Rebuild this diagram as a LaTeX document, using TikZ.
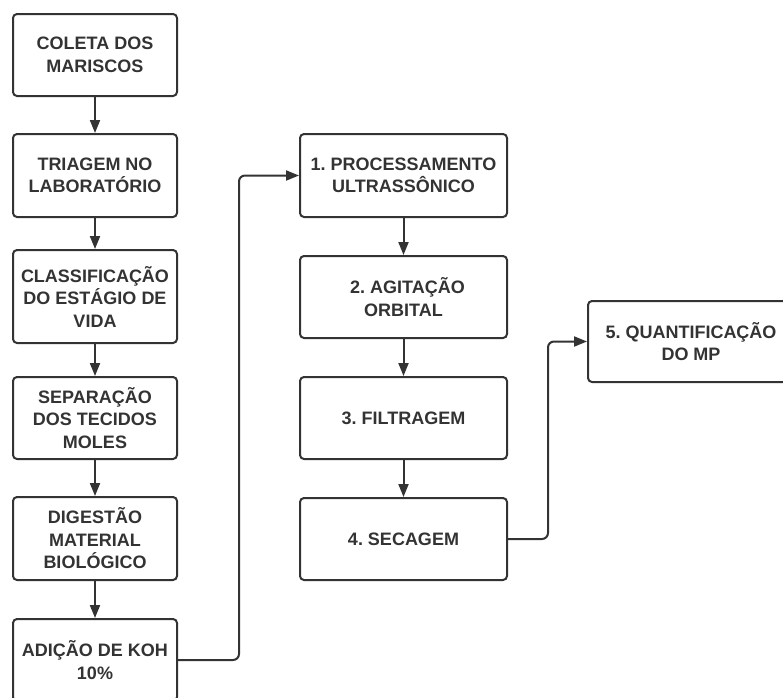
\documentclass[tikz,border=0pt]{standalone}
\usepackage{fontspec}
\setmainfont{Liberation Sans}[BoldFont={Liberation Sans Bold}]
\usepackage{tikz}
\usetikzlibrary{arrows.meta}

\definecolor{ink}{HTML}{333333}

\tikzset{
    stepbox/.style={draw=ink, line width=2pt, rounded corners=4pt,
        minimum width=164pt, minimum height=82pt, inner sep=0pt,
        align=center, text=ink, font=\fontsize{18}{22.5}\selectfont\bfseries},
    widebox/.style={stepbox, minimum width=207pt},
    flow/.style={draw=ink, line width=2pt, -{Triangle[length=13pt,width=10pt]}}
}

\begin{document}
\frenchspacing
\begin{tikzpicture}[x=1pt, y=-1pt]
    \useasboundingbox (0,0) rectangle (783,697);

    % left column
    \node[stepbox] (coleta)  at (95,55)    {COLETA DOS\\MARISCOS};
    \node[stepbox, minimum height=83pt] (triagem) at (95,175.5) {TRIAGEM NO\\LABORATÓRIO};
    \node[stepbox, minimum height=93pt] (classif) at (95,296.5) {CLASSIFICAÇÃO\\DO ESTÁGIO DE\\VIDA};
    \node[stepbox]  (separ)  at (95,418)   {SEPARAÇÃO\\DOS TECIDOS\\MOLES};
    \node[stepbox, minimum height=83pt] (digest)  at (95,538.5) {DIGESTÃO\\MATERIAL\\BIOLÓGICO};
    \node[stepbox]  (adicao) at (95,660)   {ADIÇÃO DE KOH\\10\%};

    % right column
    \node[widebox, minimum height=83pt] (proc) at (403.5,175.5) {1. PROCESSAMENTO\\ULTRASSÔNICO};
    \node[widebox] (agit)  at (403.5,297) {\hspace{8pt}2. AGITAÇÃO\\ORBITAL};
    \node[widebox] (filt)  at (403.5,418) {3. FILTRAGEM};
    \node[widebox] (sec)   at (403.5,539) {4. SECAGEM};
    \node[widebox, minimum width=206pt, minimum height=81pt] (quant) at (691,341.5) {5. QUANTIFICAÇÃO\\DO MP};

    \draw[flow] (coleta) -- (triagem);
    \draw[flow] (triagem) -- (classif);
    \draw[flow] (classif) -- (separ);
    \draw[flow] (separ) -- (digest);
    \draw[flow] (digest) -- (adicao);

    \draw[flow] (proc) -- (agit);
    \draw[flow] (agit) -- (filt);
    \draw[flow] (filt) -- (sec);

    \draw[flow, rounded corners=6pt] (adicao.east) -- ++(61,0) |- (proc.west);
    \draw[flow, rounded corners=6pt] (sec.east) -- ++(40,0) |- (quant.west);
\end{tikzpicture}
\end{document}
